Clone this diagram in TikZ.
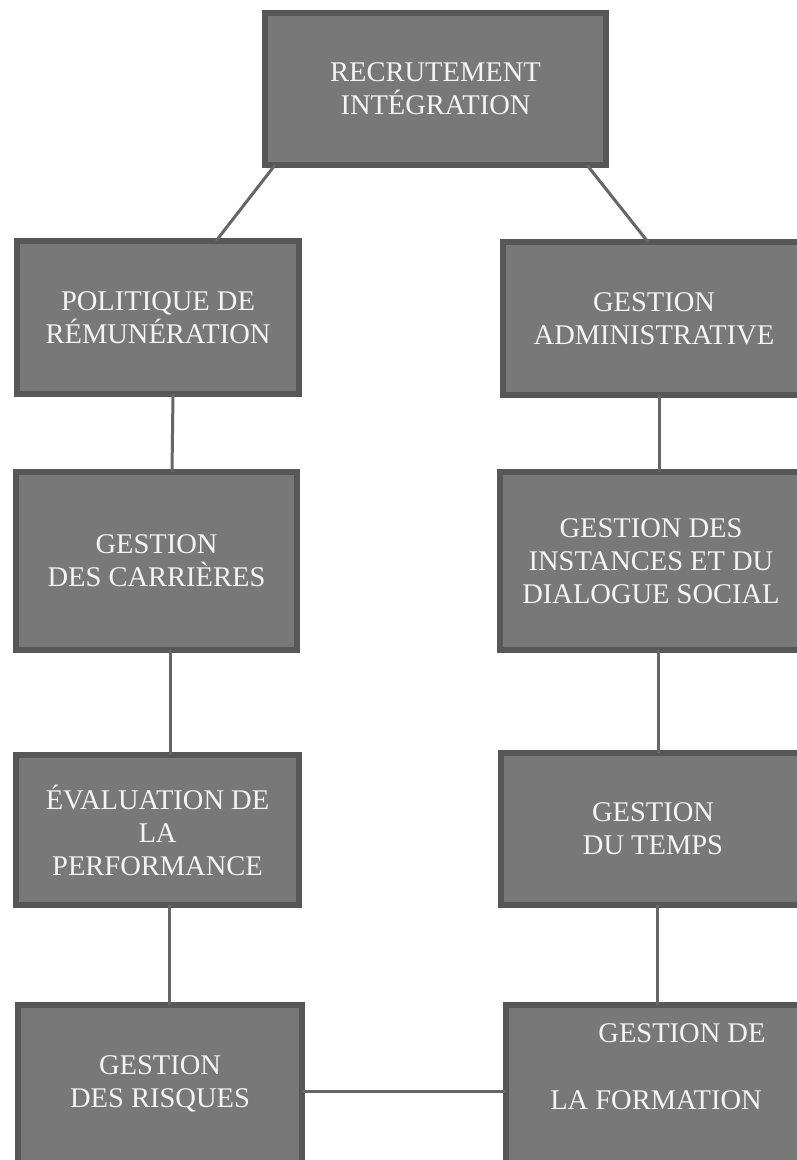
\documentclass[tikz,border=0pt]{standalone}
\usepackage{fontspec}
\setmainfont{Liberation Serif}
\definecolor{boxfill}{HTML}{787878}
\definecolor{boxline}{HTML}{575757}
\definecolor{connline}{HTML}{666666}
\definecolor{boxtext}{HTML}{F4F4F4}
\tikzset{
  hrbox/.style={draw=boxline, fill=boxfill, line width=6pt, inner sep=0pt, outer sep=0pt,
    align=center, text=boxtext, font=\fontsize{28.5}{33}\selectfont},
  conn/.style={draw=connline, line width=3pt}
}
\begin{document}
\begin{tikzpicture}[x=1pt,y=-1pt]
\useasboundingbox (0,0) rectangle (797,1160);
\clip (0,0) rectangle (797,1160);
\fill[white] (0,0) rectangle (797,1160);
% boxes
\node[hrbox, minimum width=341pt, minimum height=152pt] (top) at (435.5,89) {RECRUTEMENT\\INTÉGRATION};
\node[hrbox, minimum width=282pt, minimum height=153pt] (pol) at (158,317.5) {POLITIQUE DE\\RÉMUNÉRATION};
\node[hrbox, minimum width=302pt, minimum height=153pt] (adm) at (654,318.5) {GESTION\\ADMINISTRATIVE};
\node[hrbox, minimum width=281pt, minimum height=178pt] (car) at (156.5,561) {GESTION\\DES CARRIÈRES};
\node[hrbox, minimum width=302pt, minimum height=178pt] (ins) at (651,561) {GESTION DES\\INSTANCES ET DU\\DIALOGUE SOCIAL};
\node[hrbox, minimum width=283pt, minimum height=150pt] (eva) at (157.5,830) {ÉVALUATION DE\\LA\\PERFORMANCE};
\node[hrbox, minimum width=304pt, minimum height=152pt] (tmp) at (653,829) {GESTION\\DU TEMPS};
\node[hrbox, minimum width=284pt, minimum height=172pt] (ris) at (160,1091) {GESTION\\DES RISQUES\\[-15pt]};
\node[hrbox, minimum width=301pt, minimum height=172pt] (for) at (656,1091) {\hspace*{52pt}GESTION DE\\[34pt]LA FORMATION\\[16pt]};
% connectors
\draw[conn] ([xshift=10pt]top.south west) -- ([xshift=199pt]pol.north west);
\draw[conn] ([xshift=-19pt]top.south east) -- ([xshift=145pt]adm.north west);
\draw[conn] ([xshift=15pt]pol.south) -- ([xshift=15.5pt]car.north);
\draw[conn] ([xshift=13.5pt]car.south) -- ([xshift=12.5pt]eva.north);
\draw[conn] ([xshift=11.5pt]eva.south) -- ([xshift=9pt]ris.north);
\draw[conn] ([xshift=5pt]adm.south) -- ([xshift=8pt]ins.north);
\draw[conn] ([xshift=7pt]ins.south) -- ([xshift=5pt]tmp.north);
\draw[conn] ([xshift=4pt]tmp.south) -- ([xshift=1pt]for.north);
\draw[conn] (ris.east) -- (for.west);
\end{tikzpicture}
\end{document}
